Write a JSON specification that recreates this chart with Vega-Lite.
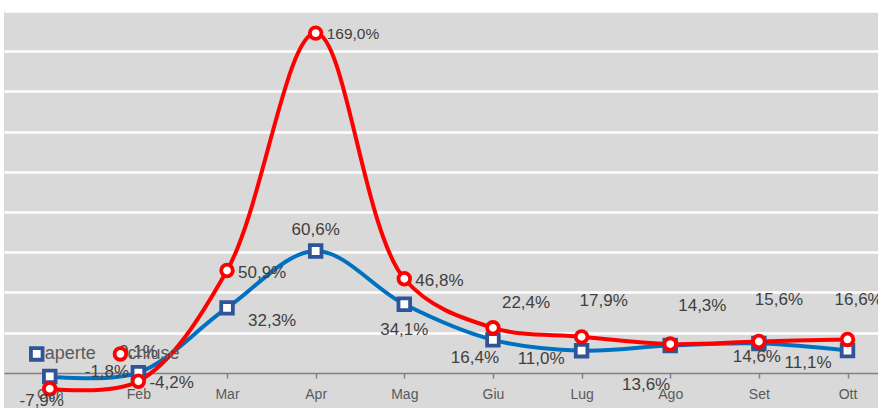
{
  "$schema": "https://vega.github.io/schema/vega-lite/v6.json",
  "autosize": {"type": "none"},
  "padding": {"left": 4, "top": 11, "right": 0, "bottom": 0},
  "width": 874,
  "height": 397,
  "background": "white",
  "config": {
    "view": {"fill": "#D9D9D9", "stroke": null},
    "locale": {"number": {"decimal": ",", "thousands": ".", "grouping": [3], "currency": ["€", ""], "minus": "-"}},
    "text": {"font": "Liberation Sans", "fontSize": 17, "color": "#404040"}
  },
  "data": {"values": [
    {"m": "Gen", "s": "aperte", "v": -0.018},
    {"m": "Feb", "s": "aperte", "v": 0.001},
    {"m": "Mar", "s": "aperte", "v": 0.323},
    {"m": "Apr", "s": "aperte", "v": 0.606},
    {"m": "Mag", "s": "aperte", "v": 0.341},
    {"m": "Giu", "s": "aperte", "v": 0.164},
    {"m": "Lug", "s": "aperte", "v": 0.110},
    {"m": "Ago", "s": "aperte", "v": 0.136},
    {"m": "Set", "s": "aperte", "v": 0.146},
    {"m": "Ott", "s": "aperte", "v": 0.111},
    {"m": "Gen", "s": "chiuse", "v": -0.079},
    {"m": "Feb", "s": "chiuse", "v": -0.042},
    {"m": "Mar", "s": "chiuse", "v": 0.509},
    {"m": "Apr", "s": "chiuse", "v": 1.690},
    {"m": "Mag", "s": "chiuse", "v": 0.468},
    {"m": "Giu", "s": "chiuse", "v": 0.224},
    {"m": "Lug", "s": "chiuse", "v": 0.179},
    {"m": "Ago", "s": "chiuse", "v": 0.143},
    {"m": "Set", "s": "chiuse", "v": 0.156},
    {"m": "Ott", "s": "chiuse", "v": 0.166}
  ]},
  "encoding": {
    "x": {
      "field": "m", "type": "ordinal", "title": null,
      "scale": {"type": "point", "domain": ["Gen","Feb","Mar","Apr","Mag","Giu","Lug","Ago","Set","Ott"], "padding": 0.43, "align": 0.6},
      "axis": {"orient": "bottom", "offset": -35, "domainColor": "#808080", "domainWidth": 1.5, "tickColor": "#808080", "tickWidth": 1.5, "tickSize": 5, "labelColor": "#595959", "labelFont": "Liberation Sans", "labelFontSize": 14, "labelPadding": 9, "labelAngle": 0, "grid": false}
    },
    "y": {
      "field": "v", "type": "quantitative", "title": null,
      "scale": {"domain": [-0.175, 1.8], "nice": false, "zero": false},
      "axis": {"values": [0.2, 0.4, 0.6, 0.8, 1.0, 1.2, 1.4, 1.6, 1.8], "labels": false, "ticks": false, "domain": false, "grid": true, "gridColor": "white", "gridWidth": 2.5, "gridOpacity": 1}
    }
  },
  "layer": [
    {
      "mark": {"type": "line", "interpolate": "catmull-rom", "strokeWidth": 4},
      "encoding": {
        "stroke": {"field": "s", "type": "nominal", "scale": {"domain": ["aperte", "chiuse"], "range": ["#0070C0", "#FF0000"]}, "legend": null}
      }
    },
    {
      "mark": {"type": "point", "filled": false, "fill": "white", "fillOpacity": 1, "strokeWidth": 3.8, "opacity": 1, "size": 135},
      "encoding": {
        "color": {"field": "s", "type": "nominal", "scale": {"domain": ["aperte", "chiuse"], "range": ["#2F5597", "#FF0000"]}, "legend": null},
        "shape": {"field": "s", "type": "nominal", "scale": {"domain": ["aperte", "chiuse"], "range": ["square", "circle"]}, "legend": null}
      }
    },
    {
      "transform": [{"filter": {"and": [{"field": "s", "equal": "aperte"}, {"field": "m", "equal": "Gen"}]}}],
      "mark": {"type": "text", "align": "left", "dx": 35, "dy": -4},
      "encoding": {"text": {"field": "v", "type": "quantitative", "format": ".1%"}}
    },
    {
      "transform": [{"filter": {"and": [{"field": "s", "equal": "aperte"}, {"field": "m", "oneOf": ["Feb", "Apr"]}]}}],
      "mark": {"type": "text", "align": "center", "dy": -21},
      "encoding": {"text": {"field": "v", "type": "quantitative", "format": ".1%"}}
    },
    {
      "transform": [{"filter": {"and": [{"field": "s", "equal": "aperte"}, {"field": "m", "equal": "Mar"}]}}],
      "mark": {"type": "text", "align": "left", "dx": 21, "dy": 13},
      "encoding": {"text": {"field": "v", "type": "quantitative", "format": ".1%"}}
    },
    {
      "transform": [{"filter": {"and": [{"field": "s", "equal": "aperte"}, {"field": "m", "equal": "Mag"}]}}],
      "mark": {"type": "text", "align": "center", "dy": 26},
      "encoding": {"text": {"field": "v", "type": "quantitative", "format": ".1%"}}
    },
    {
      "transform": [{"filter": {"and": [{"field": "s", "equal": "aperte"}, {"field": "m", "equal": "Giu"}]}}],
      "mark": {"type": "text", "align": "center", "dx": -18, "dy": 18},
      "encoding": {"text": {"field": "v", "type": "quantitative", "format": ".1%"}}
    },
    {
      "transform": [{"filter": {"and": [{"field": "s", "equal": "aperte"}, {"field": "m", "equal": "Lug"}]}}],
      "mark": {"type": "text", "align": "right", "dx": -17, "dy": 8},
      "encoding": {"text": {"field": "v", "type": "quantitative", "format": ".1%"}}
    },
    {
      "transform": [{"filter": {"and": [{"field": "s", "equal": "aperte"}, {"field": "m", "equal": "Ott"}]}}],
      "mark": {"type": "text", "align": "right", "dx": -16, "dy": 12},
      "encoding": {"text": {"field": "v", "type": "quantitative", "format": ".1%"}}
    },
    {
      "transform": [{"filter": {"and": [{"field": "s", "equal": "aperte"}, {"field": "m", "equal": "Ago"}]}}],
      "mark": {"type": "text", "align": "right", "dx": 0, "dy": 40},
      "encoding": {"text": {"field": "v", "type": "quantitative", "format": ".1%"}}
    },
    {
      "transform": [{"filter": {"and": [{"field": "s", "equal": "aperte"}, {"field": "m", "equal": "Set"}]}}],
      "mark": {"type": "text", "align": "center", "dx": -2, "dy": 14},
      "encoding": {"text": {"field": "v", "type": "quantitative", "format": ".1%"}}
    },
    {
      "transform": [{"filter": {"and": [{"field": "s", "equal": "chiuse"}, {"field": "m", "equal": "Gen"}]}}],
      "mark": {"type": "text", "align": "center", "dx": -8, "dy": 12},
      "encoding": {"text": {"field": "v", "type": "quantitative", "format": ".1%"}}
    },
    {
      "transform": [{"filter": {"and": [{"field": "s", "equal": "chiuse"}, {"field": "m", "oneOf": ["Feb", "Mar", "Mag"]}]}}],
      "mark": {"type": "text", "align": "left", "dx": 11, "dy": 2},
      "encoding": {"text": {"field": "v", "type": "quantitative", "format": ".1%"}}
    },
    {
      "transform": [{"filter": {"and": [{"field": "s", "equal": "chiuse"}, {"field": "m", "equal": "Apr"}]}}],
      "mark": {"type": "text", "align": "left", "dx": 11, "dy": 1, "fontSize": 15.5},
      "encoding": {"text": {"field": "v", "type": "quantitative", "format": ".1%"}}
    },
    {
      "transform": [{"filter": {"and": [{"field": "s", "equal": "chiuse"}, {"field": "m", "equal": "Giu"}]}}],
      "mark": {"type": "text", "align": "left", "dx": 9, "dy": -25},
      "encoding": {"text": {"field": "v", "type": "quantitative", "format": ".1%"}}
    },
    {
      "transform": [{"filter": {"and": [{"field": "s", "equal": "chiuse"}, {"field": "m", "equal": "Lug"}]}}],
      "mark": {"type": "text", "align": "left", "dx": -2, "dy": -36},
      "encoding": {"text": {"field": "v", "type": "quantitative", "format": ".1%"}}
    },
    {
      "transform": [{"filter": {"and": [{"field": "s", "equal": "chiuse"}, {"field": "m", "equal": "Ago"}]}}],
      "mark": {"type": "text", "align": "left", "dx": 8, "dy": -38},
      "encoding": {"text": {"field": "v", "type": "quantitative", "format": ".1%"}}
    },
    {
      "transform": [{"filter": {"and": [{"field": "s", "equal": "chiuse"}, {"field": "m", "equal": "Set"}]}}],
      "mark": {"type": "text", "align": "left", "dx": -4, "dy": -41},
      "encoding": {"text": {"field": "v", "type": "quantitative", "format": ".1%"}}
    },
    {
      "transform": [{"filter": {"and": [{"field": "s", "equal": "chiuse"}, {"field": "m", "equal": "Ott"}]}}],
      "mark": {"type": "text", "align": "left", "dx": -13, "dy": -39},
      "encoding": {"text": {"field": "v", "type": "quantitative", "format": ".1%"}}
    },
    {
      "transform": [{"filter": {"and": [{"field": "s", "equal": "aperte"}, {"field": "m", "equal": "Gen"}]}}],
      "mark": {"type": "point", "shape": "square", "filled": false, "fill": "white", "fillOpacity": 1, "stroke": "#2F5597", "strokeWidth": 3.8, "size": 135},
      "encoding": {"y": {"datum": 0.094}, "xOffset": {"value": -13}}
    },
    {
      "transform": [{"filter": {"and": [{"field": "s", "equal": "aperte"}, {"field": "m", "equal": "Gen"}]}}],
      "mark": {"type": "text", "align": "left", "dx": -5, "fontSize": 18, "color": "#595959"},
      "encoding": {"y": {"datum": 0.094}, "text": {"field": "s"}}
    },
    {
      "transform": [{"filter": {"and": [{"field": "s", "equal": "chiuse"}, {"field": "m", "equal": "Feb"}]}}],
      "mark": {"type": "point", "shape": "circle", "filled": false, "fill": "white", "fillOpacity": 1, "stroke": "#FF0000", "strokeWidth": 3.8, "size": 135},
      "encoding": {"y": {"datum": 0.094}, "xOffset": {"value": -18}}
    },
    {
      "transform": [{"filter": {"and": [{"field": "s", "equal": "chiuse"}, {"field": "m", "equal": "Feb"}]}}],
      "mark": {"type": "text", "align": "left", "dx": -11, "fontSize": 18, "color": "#595959"},
      "encoding": {"y": {"datum": 0.094}, "text": {"field": "s"}}
    }
  ]
}
